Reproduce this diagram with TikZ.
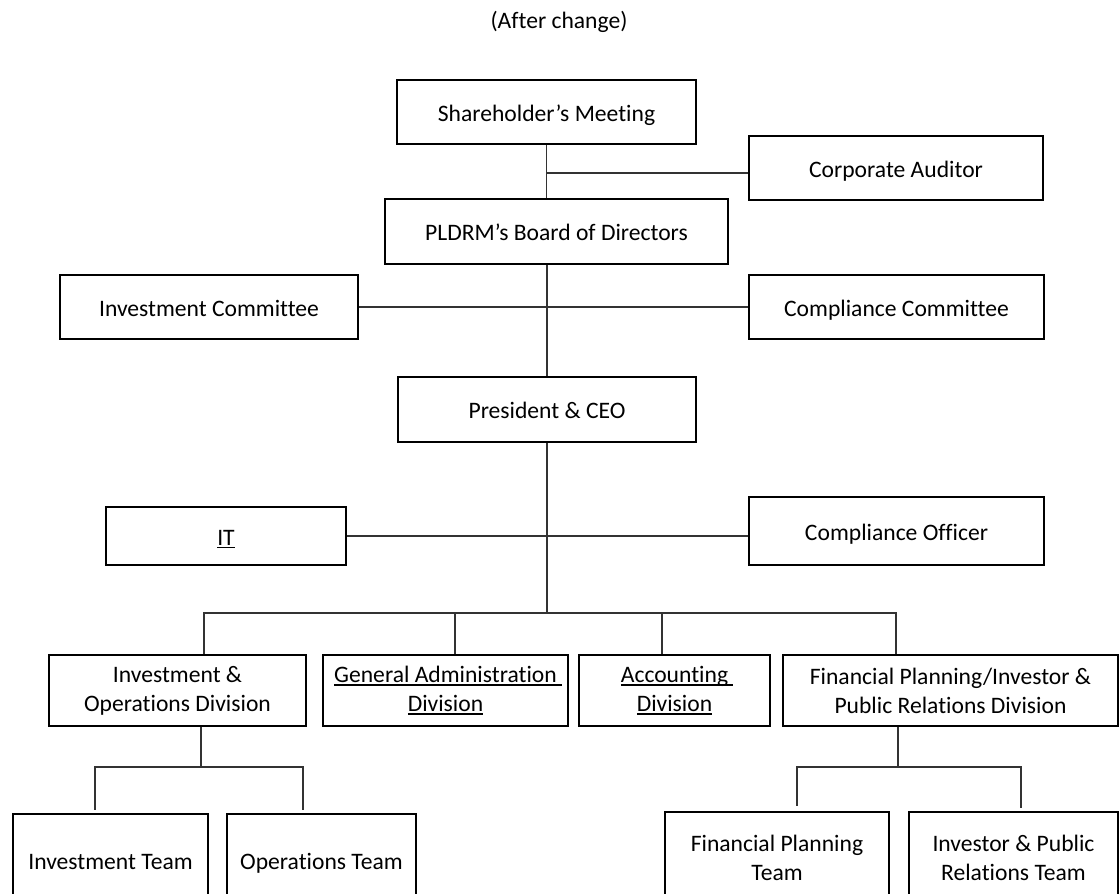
\documentclass[tikz,border=0pt]{standalone}
\usepackage{fontspec}
\setmainfont{Carlito}[Ligatures={NoCommon}]
\usetikzlibrary{calc}
\newcommand\uln[1]{\setbox0\hbox{#1}\rlap{\rule[-3pt]{\wd0}{1.4pt}}\box0}
\newcommand\ulnx[1]{\setbox0\hbox{#1\ }\rlap{\rule[-3pt]{\wd0}{1.4pt}}#1}
\tikzset{
	orgbox/.style={draw, line width=2.8pt, inner sep=0pt, align=center},
	oneline/.style={text height=20pt, text depth=2pt},
	conn/.style={line width=1.2pt, draw=black!80},
}

\begin{document}
\begin{tikzpicture}[x=1pt, y=-1pt, font=\fontsize{23.6}{29}\selectfont]
		%%%%% START %%%%%
		
		\clip (0, 0) rectangle (1120, 894);
		
		\node (title) at (559, 22) {(After change)};
		
		\node[orgbox, oneline, minimum width=299, minimum height=64] (share) at (546.5, 112) {Shareholder’s Meeting};
		\node[orgbox, oneline, minimum width=294, minimum height=64] (auditor) at (896, 168) {Corporate Auditor};
		\node[orgbox, oneline, minimum width=343, minimum height=65] (board) at (556.5, 231.5) {PLDRM’s Board of Directors};
		
		\node[orgbox, oneline, minimum width=298, minimum height=64] (invcom) at (209, 307) {Investment Committee};
		\node[orgbox, oneline, minimum width=295, minimum height=64] (compcom) at (896.5, 307) {Compliance Committee};
		\node[orgbox, oneline, minimum width=298, minimum height=65] (pres) at (547, 409.5) {President \& CEO};
		
		\node[orgbox, oneline, minimum width=240, minimum height=58] (it) at (226, 536) {\uln{IT}};
		\node[orgbox, oneline, minimum width=295, minimum height=68] (compoff) at (896.5, 531) {Compliance Officer};
		
		% divisions
		\node[orgbox, minimum width=257, minimum height=71] (iod) at (177.5, 690.5) {Investment \&\\Operations Division};
		\node[orgbox, minimum width=245, minimum height=71] (gad) at (445.5, 690.5) {\ulnx{General Administration}\\\uln{Division}};
		\node[orgbox, minimum width=191, minimum height=71] (acc) at (674.5, 690.5) {\ulnx{Accounting}\\\uln{Division}};
		\node[orgbox, minimum width=335, minimum height=71] (fpd) at (950.5, 690.5) {Financial Planning/Investor \&\\Public Relations Division};
		
		% teams
		\node[orgbox, oneline, minimum width=195, minimum height=92] (invteam) at (110.5, 860) {Investment Team};
		\node[orgbox, oneline, minimum width=189, minimum height=92] (opsteam) at (321.5, 860) {Operations Team};
		\node[orgbox, minimum width=224, minimum height=92] (fpteam) at (777, 858) {Financial Planning\\Team};
		\node[orgbox, minimum width=209, minimum height=92] (irteam) at (1013.5, 858) {Investor \& Public\\Relations Team};
		
		% top part
		\coordinate (j1) at (547, 173);
		\draw[conn] (share.south) -- (share.south |- board.north);
		\draw[conn] (j1) -- (auditor.west |- j1);
		\draw[conn] (pres.north) -- (pres.north |- board.south);
		\draw[conn] (invcom) -- (compcom);
		\draw[conn] (it.east) -- (compoff.west |- it.east);
		
		% divisions bus
		\coordinate (bus) at (547, 613);
		\coordinate (b1) at (204, 613);
		\coordinate (b2) at (455, 613);
		\coordinate (b3) at (662, 613);
		\coordinate (b4) at (896, 613);
		\draw[conn] (pres.south) -- (bus);
		\draw[conn] (b1 |- iod.north) -- (b1) -- (b4) -- (b4 |- fpd.north);
		\draw[conn] (b2) -- (b2 |- gad.north);
		\draw[conn] (b3) -- (b3 |- acc.north);
		
		% teams bus
		\coordinate (s1) at (201, 767);
		\coordinate (l1) at (95, 767);
		\coordinate (r1) at (303, 767);
		\draw[conn] (s1 |- iod.south) -- (s1);
		\draw[conn] ([yshift=3]invteam.north -| l1) -- (l1) -- (r1) -- ([yshift=3]opsteam.north -| r1);
		
		\coordinate (s2) at (898, 767);
		\coordinate (l2) at (797, 767);
		\coordinate (r2) at (1021, 767);
		\draw[conn] (s2 |- fpd.south) -- (s2);
		\draw[conn] ([yshift=5]fpteam.north -| l2) -- (l2) -- (r2) -- ([yshift=3]irteam.north -| r2);
		
		%%%%% END %%%%%
	\end{tikzpicture}
\end{document}
